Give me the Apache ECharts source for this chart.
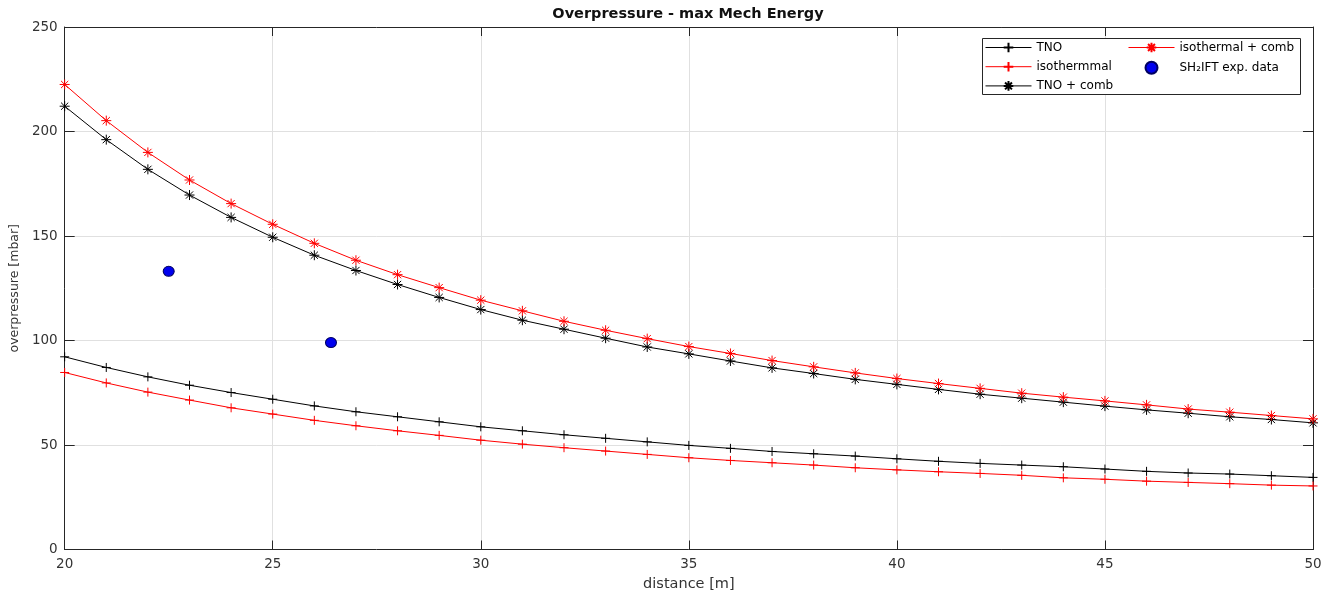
<!DOCTYPE html>
<html>
<head>
<meta charset="utf-8">
<script src="https://cdn.jsdelivr.net/npm/echarts@6/dist/echarts.min.js"></script>
<style>html,body{margin:0;padding:0;background:#fff}#c{width:1330px;height:597px}</style>
</head>
<body>
<div id="c"></div>
<script>
// ---- data ----
const distance = [20,21,22,23,24,25,26,27,28,29,30,31,32,33,34,35,36,37,38,39,40,41,42,43,44,45,46,47,48,49,50];
const tno = [92.2,87.1,82.6,78.6,75.1,71.9,68.7,65.9,63.5,61.1,58.7,56.8,54.9,53.2,51.5,49.8,48.4,46.9,45.8,44.7,43.4,42.2,41.2,40.4,39.6,38.5,37.4,36.6,36.1,35.3,34.5];
const isothermmal = [84.7,79.7,75.3,71.5,67.8,64.8,61.8,59.2,56.8,54.6,52.3,50.4,48.7,47.1,45.5,43.9,42.6,41.5,40.4,39.1,38.1,37.2,36.4,35.5,34.3,33.6,32.7,32.1,31.5,30.8,30.4];
const tnoComb = [212.1,196.1,181.9,169.6,158.9,149.4,140.8,133.5,126.8,120.6,114.8,109.7,105.4,101.1,96.9,93.6,90.2,86.9,84.2,81.4,79.0,76.6,74.3,72.4,70.5,68.6,66.8,65.2,63.5,62.2,60.6];
const isoComb = [222.5,205.2,190.0,176.8,165.5,155.6,146.5,138.4,131.5,125.3,119.3,114.2,109.2,104.9,100.9,97.1,93.8,90.4,87.4,84.5,81.8,79.4,77.1,74.8,72.9,71.1,69.2,67.2,65.7,64.1,62.5];
const expDistance = [22.5, 26.4];
const expPressure = [133.1, 99.0];
const seriesNames = ['TNO', 'isothermmal', 'TNO + comb', 'isothermal + comb', 'SH\u2082IFT exp. data'];
const xTicks = {min: 20, max: 50, interval: 5};
const yTicks = {min: 0, max: 250, interval: 50};
const titleText = 'Overpressure - max Mech Energy';
const xName = 'distance [m]';
const yName = 'overpressure [mbar]';

const pairs = (xs, ys) => xs.map((x, i) => [x, ys[i]]);
const PLUS = 'path://M0,-1L0,1M-1,0L1,0';
const STAR = 'path://M0,-1L0,1M-1,0L1,0M-0.72,-0.72L0.72,0.72M-0.72,0.72L0.72,-0.72';
const FONT = 'DejaVu Sans';
const AX = '#262626';

function lineSeries(name, ys, color, symbol, size) {
  return {
    name: name, type: 'line', data: pairs(distance, ys),
    symbol: symbol, symbolSize: size, showSymbol: true, smooth: false,
    lineStyle: {color: color, width: 1},
    itemStyle: {color: color, borderColor: color, borderWidth: 1},
    emphasis: {disabled: true}, animation: false, z: 2
  };
}

const legendCommon = {
  orient: 'vertical', padding: 0, itemWidth: 46, itemHeight: 12, itemGap: 7.2,
  textStyle: {fontFamily: FONT, fontSize: 12, color: '#000'}, z: 10,
  lineStyle: {width: 1}, selectedMode: false
};

const chart = echarts.init(document.getElementById('c'), null, {renderer: 'canvas'});
chart.setOption({
  animation: false,
  backgroundColor: '#fff',
  textStyle: {fontFamily: FONT},
  title: {
    text: titleText, left: 688, top: 7, padding: 0, textAlign: 'center',
    textStyle: {fontFamily: FONT, fontSize: 14.5, fontWeight: 'bold', color: '#111'}
  },
  grid: {left: 63, right: 17, top: 27, bottom: 47.5, containLabel: false},
  xAxis: [{
    type: 'value', min: xTicks.min, max: xTicks.max, interval: xTicks.interval,
    name: xName, nameLocation: 'middle', nameGap: 26,
    nameTextStyle: {fontFamily: FONT, fontSize: 14.5, color: '#333'},
    axisLine: {show: true, onZero: false, lineStyle: {color: AX, width: 1}},
    axisTick: {show: true, inside: true, length: 9, lineStyle: {color: AX}},
    axisLabel: {margin: 8, fontFamily: FONT, fontSize: 13.5, color: '#333'},
    splitLine: {show: true, lineStyle: {color: '#e0e0e0', width: 1}}
  }, {
    type: 'value', position: 'top', min: xTicks.min, max: xTicks.max, interval: xTicks.interval,
    axisLine: {show: true, onZero: false, lineStyle: {color: AX, width: 1}},
    axisTick: {show: true, inside: true, length: 9, lineStyle: {color: AX}},
    axisLabel: {show: false}, splitLine: {show: false}
  }],
  yAxis: [{
    type: 'value', min: yTicks.min, max: yTicks.max, interval: yTicks.interval,
    name: yName, nameLocation: 'middle', nameGap: 34, nameRotate: 90,
    nameTextStyle: {fontFamily: FONT, fontSize: 12.5, color: '#333'},
    axisLine: {show: true, onZero: false, lineStyle: {color: AX, width: 1}},
    axisTick: {show: true, inside: true, length: 10, lineStyle: {color: AX}},
    axisLabel: {margin: 7, fontFamily: FONT, fontSize: 13.5, color: '#333'},
    splitLine: {show: true, lineStyle: {color: '#e0e0e0', width: 1}}
  }, {
    type: 'value', position: 'right', min: yTicks.min, max: yTicks.max, interval: yTicks.interval,
    axisLine: {show: true, onZero: false, lineStyle: {color: AX, width: 1}},
    axisTick: {show: true, inside: true, length: 10, lineStyle: {color: AX}},
    axisLabel: {show: false}, splitLine: {show: false}
  }],
  legend: [
    Object.assign({}, legendCommon, {left: 985, top: 41.5, data: [seriesNames[0], seriesNames[1], seriesNames[2]]}),
    Object.assign({}, legendCommon, {left: 1128, top: 41.5, data: [seriesNames[3], seriesNames[4]]})
  ],
  graphic: [{
    type: 'rect', z: 5,
    shape: {x: 982.5, y: 38.5, width: 318, height: 56},
    style: {fill: '#fff', stroke: AX, lineWidth: 1}
  }],
  series: [
    lineSeries(seriesNames[0], tno, '#000000', PLUS, 9),
    lineSeries(seriesNames[1], isothermmal, '#ff0000', PLUS, 9),
    lineSeries(seriesNames[2], tnoComb, '#000000', STAR, 10),
    lineSeries(seriesNames[3], isoComb, '#ff0000', STAR, 10),
    {
      name: seriesNames[4], type: 'scatter', data: pairs(expDistance, expPressure),
      symbol: 'circle', symbolSize: [11, 10],
      itemStyle: {color: '#0000ee', borderColor: '#000060', borderWidth: 1, opacity: 1},
      emphasis: {disabled: true}, z: 3
    }
  ]
});
</script>
</body>
</html>
